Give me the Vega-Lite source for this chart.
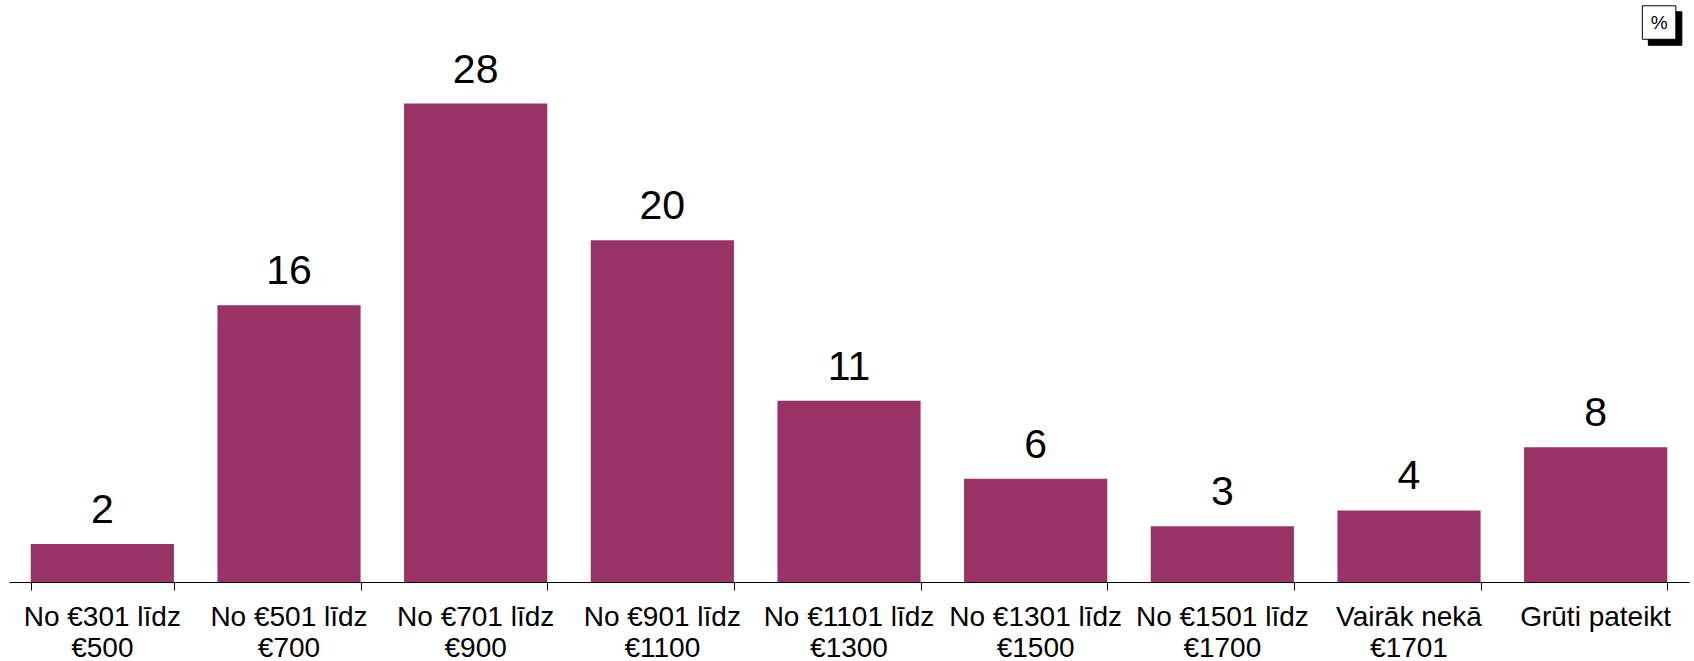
{
  "$schema": "https://vega.github.io/schema/vega-lite/v6.json",
  "width": 1680,
  "height": 581,
  "padding": {"left": 9, "top": 1, "right": 5, "bottom": 0},
  "background": "white",
  "config": {
    "view": {"strokeWidth": 0},
    "axis": {"grid": false}
  },
  "datasets": {
    "bars": [
      {"cat": "No €301 līdz €500", "lab": "No €301 līdz\n€500", "pct": 2.22},
      {"cat": "No €501 līdz €700", "lab": "No €501 līdz\n€700", "pct": 16.2},
      {"cat": "No €701 līdz €900", "lab": "No €701 līdz\n€900", "pct": 28.0},
      {"cat": "No €901 līdz €1100", "lab": "No €901 līdz\n€1100", "pct": 20.0},
      {"cat": "No €1101 līdz €1300", "lab": "No €1101 līdz\n€1300", "pct": 10.6},
      {"cat": "No €1301 līdz €1500", "lab": "No €1301 līdz\n€1500", "pct": 6.04},
      {"cat": "No €1501 līdz €1700", "lab": "No €1501 līdz\n€1700", "pct": 3.26},
      {"cat": "Vairāk nekā €1701", "lab": "Vairāk nekā\n€1701", "pct": 4.19},
      {"cat": "Grūti pateikt", "lab": "Grūti pateikt", "pct": 7.88}
    ],
    "badge": [
      {"cat": "Grūti pateikt", "pos": 32.74, "shadowpos": 32.39, "t": "%"}
    ]
  },
  "layer": [
    {
      "data": {"name": "bars"},
      "mark": {"type": "bar", "color": "#993366"},
      "encoding": {
        "x": {
          "field": "cat", "type": "nominal", "sort": null,
          "scale": {"paddingInner": 0.233, "paddingOuter": 0.1165},
          "axis": {
            "title": null,
            "labels": false,
            "domainColor": "black",
            "tickColor": "black",
            "tickSize": 8,
            "tickBand": "extent"
          }
        },
        "y": {
          "field": "pct", "type": "quantitative",
          "scale": {"domain": [0, 34], "nice": false},
          "axis": null
        }
      }
    },
    {
      "data": {"name": "bars"},
      "mark": {"type": "text", "baseline": "alphabetic", "align": "center", "dy": -21, "fontSize": 41, "font": "Liberation Sans", "color": "black"},
      "encoding": {
        "x": {"field": "cat", "type": "nominal", "sort": null},
        "y": {"field": "pct", "type": "quantitative"},
        "text": {"field": "pct", "type": "quantitative", "format": ".0f"}
      }
    },
    {
      "data": {"name": "bars"},
      "mark": {"type": "text", "baseline": "alphabetic", "align": "center", "dy": 44, "fontSize": 28, "lineHeight": 31, "lineBreak": "\n", "font": "Liberation Sans", "color": "black"},
      "encoding": {
        "x": {"field": "cat", "type": "nominal", "sort": null},
        "y": {"datum": 0, "type": "quantitative"},
        "text": {"field": "lab", "type": "nominal"}
      }
    },
    {
      "data": {"name": "badge"},
      "mark": {"type": "point", "shape": "square", "filled": true, "fill": "black", "stroke": "black", "strokeWidth": 1, "size": 1122, "opacity": 1},
      "encoding": {
        "x": {"field": "cat", "type": "nominal", "sort": null, "bandPosition": 0.985},
        "y": {"field": "shadowpos", "type": "quantitative"}
      }
    },
    {
      "data": {"name": "badge"},
      "mark": {"type": "point", "shape": "square", "filled": true, "fill": "white", "stroke": "black", "strokeWidth": 1, "size": 1122, "opacity": 1},
      "encoding": {
        "x": {"field": "cat", "type": "nominal", "sort": null, "bandPosition": 0.943},
        "y": {"field": "pos", "type": "quantitative"}
      }
    },
    {
      "data": {"name": "badge"},
      "mark": {"type": "text", "baseline": "middle", "align": "center", "fontSize": 19, "font": "Liberation Sans", "color": "black"},
      "encoding": {
        "x": {"field": "cat", "type": "nominal", "sort": null, "bandPosition": 0.943},
        "y": {"field": "pos", "type": "quantitative"},
        "text": {"field": "t", "type": "nominal"}
      }
    }
  ]
}
